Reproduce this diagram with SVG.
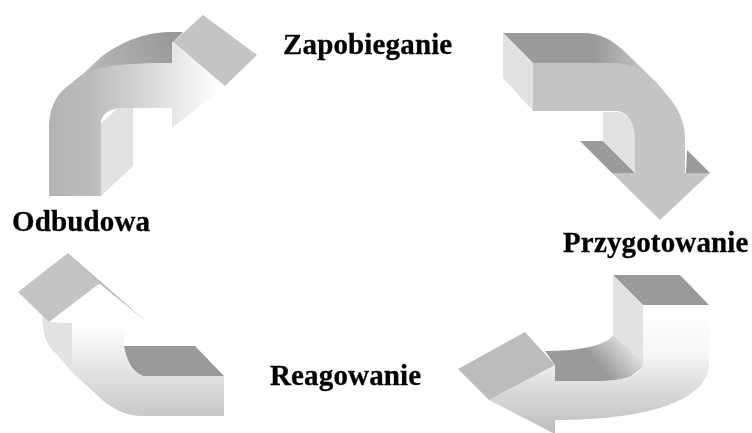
<svg xmlns="http://www.w3.org/2000/svg" width="752" height="433" viewBox="0 0 752 433">
<style>
text{font-family:"Liberation Serif","Times New Roman",serif;font-weight:bold;font-size:29px;letter-spacing:.15px;fill:#000;stroke:#000;stroke-width:.3px;filter:url(#b)}
.d{fill:#c4c4c4}.l{fill:#e2e2e2}.k{fill:#9a9a9a}
g.a{filter:url(#b)}
</style>
<defs>
<filter id="b" x="-5%" y="-5%" width="110%" height="110%"><feGaussianBlur stdDeviation="0.5"/></filter>
<linearGradient id="g1" gradientUnits="userSpaceOnUse" x1="49" y1="0" x2="222" y2="0"><stop offset="0" stop-color="#b4b4b4"/><stop offset="0.25" stop-color="#bcbcbc"/><stop offset="1" stop-color="#fff"/></linearGradient>
<linearGradient id="g1t" gradientUnits="userSpaceOnUse" x1="85" y1="90" x2="172" y2="38"><stop offset="0" stop-color="#bcbcbc"/><stop offset="1" stop-color="#999"/></linearGradient>
<linearGradient id="g2t" gradientUnits="userSpaceOnUse" x1="595" y1="50" x2="645" y2="50"><stop offset="0" stop-color="#9a9a9a"/><stop offset="1" stop-color="#c4c4c4"/></linearGradient>
<linearGradient id="g3" gradientUnits="userSpaceOnUse" x1="0" y1="310" x2="0" y2="433"><stop offset="0" stop-color="#fff"/><stop offset="0.35" stop-color="#f6f6f6"/><stop offset="1" stop-color="#bcbcbc"/></linearGradient>
<linearGradient id="g3s" gradientUnits="userSpaceOnUse" x1="605" y1="372" x2="633" y2="348"><stop offset="0" stop-color="#9a9a9a"/><stop offset="1" stop-color="#e2e2e2"/></linearGradient>
<linearGradient id="g4" gradientUnits="userSpaceOnUse" x1="0" y1="325" x2="0" y2="416"><stop offset="0" stop-color="#fff"/><stop offset="1" stop-color="#c8c8c8"/></linearGradient>
</defs>
<g id="connectors">
<g id="arrow-top-left" class="a">
<path fill="url(#g1t)" d="M66 90L100 58C120 42 145 32 172 32H183L172 43V66L80 84Z"/>
<path class="l" d="M101 123V196L133 166V108H118Z"/>
<path fill="url(#g1)" d="M49 196V127C49 115 52 101 63 90L80 76C88 71 95 70 100 68C125 63 150 63 172 63V42L225 86L172 128V108H123C112 108 101 113 101 123V196Z"/>
<path class="d" d="M203 15L257 55L225 86L173 42Z"/>
</g>
<g id="arrow-top-right" class="a">
<path fill="url(#g2t)" d="M503 33H583C600 33 612 40 623 50L657 83L640 90L533 63Z"/>
<path class="l" d="M503 33L533 63V111L503 78Z"/>
<path class="k" d="M580 141H603L635 173H612Z"/>
<path class="k" d="M687 150L710 173H686Z"/>
<path class="l" d="M603 112H617C628 112 635 125 635 140V173L603 141Z"/>
<path class="d" d="M533 63H617C632 64 646 72 657 83L667 95C678 108 685 120 685 140V173H710L660 220L612 173H635V140C635 125 628 111 617 111H533Z"/>
</g>
<g id="arrow-bottom-right" class="a">
<path class="k" d="M613 275H680L709 305H643Z"/>
<path fill="url(#g3s)" d="M545 351C575 351 605 347 613 335L643 360V367L630 377C620 380 610 381 600 381H555V365Z"/>
<path class="l" d="M613 275L643 305V362L613 335Z"/>
<path fill="url(#g3)" d="M643 305H709V367C705 400 650 420 555 420V434L489 400L555 365V381H600C625 381 642 375 643 362Z"/>
<path fill="#bcbcbc" d="M525 332L555 365L489 400L458 369Z"/>
</g>
<g id="arrow-bottom-left" class="a">
<path class="l" d="M42 315C43 330 44 338 50 347L73 373L72 323L49 322Z"/>
<path fill="#b8b8b8" d="M68 253L149 324L100 286Z"/>
<path class="k" d="M124 346H195L224 376H143C132 372 126 360 124 346Z"/>
<path fill="url(#g4)" d="M100 284L148 323H124V347C126 360 132 372 143 376H224V416H143C125 416 110 408 97 395L73 373L72 323L49 322Z"/>
<path class="d" d="M68 253L100 283L49 322L18 292Z"/>
</g>
</g>
<g id="node-zapobieganie"><text x="283" y="54">Zapobieganie</text></g>
<g id="node-przygotowanie"><text x="563" y="252">Przygotowanie</text></g>
<g id="node-reagowanie"><text x="270" y="385">Reagowanie</text></g>
<g id="node-odbudowa"><text x="12" y="231">Odbudowa</text></g>
</svg>
